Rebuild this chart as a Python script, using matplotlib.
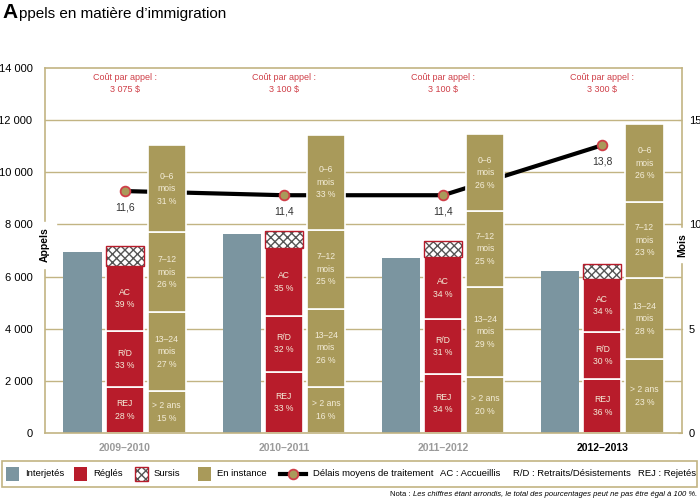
import numpy as np
import matplotlib.pyplot as plt
from matplotlib.patches import Rectangle
from matplotlib.lines import Line2D

plt.rcParams['font.family'] = ['Liberation Sans', 'DejaVu Sans']

# === Données ===
annees = ['2009–2010', '2010–2011', '2011–2012', '2012–2013']
interjetes = [6950, 7650, 6700, 6200]
regles_rej = [1750, 2350, 2270, 2080]
regles_rd = [2150, 2150, 2110, 1790]
regles_ac = [2500, 2600, 2360, 2030]
sursis = [770, 650, 640, 580]
inst_2ans = [1600, 1780, 2160, 2830]
inst_13_24 = [3050, 2990, 3450, 3100]
inst_7_12 = [3050, 3020, 2910, 2920]
inst_0_6 = [3350, 3640, 2930, 3000]

pct_rej = [28, 33, 34, 36]
pct_rd = [33, 32, 31, 30]
pct_ac = [39, 35, 34, 34]
pct_2ans = [15, 16, 20, 23]
pct_13_24 = [27, 26, 29, 28]
pct_7_12 = [26, 25, 25, 23]
pct_0_6 = [31, 33, 26, 26]

delais = [11.6, 11.4, 11.4, 13.8]
couts = ['3 075 $', '3 100 $', '3 100 $', '3 300 $']

# === Couleurs ===
c_inter = '#7b95a0'
c_regl = '#b81c2b'
c_inst = '#a99a5a'
c_grid = '#c2b483'
c_txt = '#f3ecd8'
c_cout = '#cf3f48'

fig = plt.figure(figsize=(7, 5.01), dpi=100)
ax = fig.add_axes([45 / 700, 68 / 501, 637 / 700, 365 / 501])
x = np.arange(len(annees))
w = 0.24
off = 0.264
y_max = 14000
mois_max = 17.5

ax.set_xlim(-0.5, 3.5)
ax.set_ylim(0, y_max)
ax.set_yticks(range(0, 14001, 2000))
ax.set_yticklabels(['0' if v == 0 else f'{v // 1000} 000' for v in range(0, 14001, 2000)])
ax.tick_params(axis='y', length=0, pad=9, labelsize=8)
ax.set_xticks([])
for s in ax.spines.values():
    s.set_color(c_grid)
    s.set_linewidth(1.2)
for v in range(2000, 14000, 2000):
    ax.axhline(v, color=c_grid, lw=1, zorder=0)

# Interjetés
ax.bar(x - off, interjetes, w, color=c_inter, zorder=2)

# Réglés
seg_regl = [(regles_rej, pct_rej, 'REJ'), (regles_rd, pct_rd, 'R/D'), (regles_ac, pct_ac, 'AC')]
bottom = np.zeros(4)
for vals, pcts, lab in seg_regl:
    ax.bar(x, vals, w, bottom=bottom, color=c_regl, edgecolor='white', lw=1.2, zorder=2)
    for i in range(4):
        ax.text(x[i], bottom[i] + vals[i] / 2, f'{lab}\n{pcts[i]} %', ha='center', va='center',
                color=c_txt, fontsize=6.2, linespacing=1.5, zorder=4)
    bottom += vals
ax.bar(x, sursis, w, bottom=bottom, color='white', edgecolor='#555555', hatch='xxxx', lw=0, zorder=2)
ax.bar(x, sursis, w, bottom=bottom, fill=False, edgecolor=c_regl, lw=1, zorder=3)

# En instance
seg_inst = [(inst_2ans, pct_2ans, '> 2 ans'), (inst_13_24, pct_13_24, '13–24\nmois'),
            (inst_7_12, pct_7_12, '7–12\nmois'), (inst_0_6, pct_0_6, '0–6\nmois')]
bottom = np.zeros(4)
for vals, pcts, lab in seg_inst:
    ax.bar(x + off, vals, w, bottom=bottom, color=c_inst, edgecolor='white', lw=1.2, zorder=2)
    for i in range(4):
        ax.text(x[i] + off, bottom[i] + vals[i] / 2, f'{lab}\n{pcts[i]} %', ha='center', va='center',
                color=c_txt, fontsize=6.2, linespacing=1.5, zorder=4)
    bottom += vals

# Coût par appel
for i in range(4):
    ax.text(x[i], 13800, f'Coût par appel :\n{couts[i]}', ha='center', va='top',
            color=c_cout, fontsize=6.5, linespacing=1.4)

# Délais (axe droit) - la ligne passe derrière les barres
ax2 = ax.twinx()
ax2.set_ylim(0, mois_max)
ax2.set_yticks([0, 5, 10, 15])
ax2.tick_params(axis='y', direction='in', length=3, color=c_grid, pad=5, labelsize=8)
for s in ax2.spines.values():
    s.set_visible(False)
delais_y = np.array(delais) * y_max / mois_max
ax.plot(x, delais_y, color='black', lw=3, marker='o', ms=7, mfc=c_inst, mec=c_cout, mew=1.3, zorder=1.5)
for i in range(4):
    ax.annotate(f'{delais[i]:.1f}'.replace('.', ','), (x[i], delais_y[i]), xytext=(0, -12),
                textcoords='offset points', ha='center', va='center', fontsize=7.5, color='#333333')

# Étiquettes des axes
ax.text(0, 0.515, 'Appels', transform=ax.transAxes, rotation=90, ha='center', va='center',
        fontsize=7.5, fontweight='bold', backgroundcolor='white', zorder=6)
ax2.text(1, 0.515, 'Mois', transform=ax2.transAxes, rotation=90, ha='center', va='center',
         fontsize=7.5, fontweight='bold', backgroundcolor='white', zorder=6)

# Années
for i, a in enumerate(annees):
    ax.text(x[i], -0.04, a, transform=ax.get_xaxis_transform(), ha='center', va='center',
            fontsize=7.5, fontweight='bold', color='black' if i == 3 else '#9a9a9a')

# Titre
t_a = fig.text(2 / 700, 1 - 18 / 501, 'A', fontsize=15, fontweight='bold', va='baseline')
plt.annotate('ppels en matière d’immigration', xy=(1, 1 - 18 / 501),
             xycoords=(t_a, 'figure fraction'), xytext=(1, 0), textcoords='offset points',
             fontsize=11, va='baseline', annotation_clip=False)

# === Légende ===
lg = fig.add_axes([0, 0, 1, 1], zorder=10)
lg.set_xlim(0, 700)
lg.set_ylim(501, 0)
lg.axis('off')
lg.add_patch(Rectangle((2, 461), 695, 26, fill=False, edgecolor=c_grid, lw=1.2))
yc = 474
fs_lg = 6.8
items = [(6, c_inter, 'Interjetés', 25), (74, c_regl, 'Réglés', 93), (135, None, 'Sursis', 154),
         (198, c_inst, 'En instance', 217)]
for px, col, lab, tx in items:
    if col is None:
        lg.add_patch(Rectangle((px, yc - 7), 13, 14, facecolor='white', edgecolor='#555555', hatch='xxxx', lw=0))
        lg.add_patch(Rectangle((px, yc - 7), 13, 14, fill=False, edgecolor=c_regl, lw=1))
    else:
        lg.add_patch(Rectangle((px, yc - 7), 13, 14, facecolor=col, lw=0))
    lg.text(tx, yc, lab, va='center', fontsize=fs_lg)
lg.add_line(Line2D([280, 306], [yc, yc], color='black', lw=3, zorder=1))
lg.plot([293], [yc], marker='o', ms=7, mfc=c_inst, mec=c_cout, mew=1.3, ls='none')
lg.text(313, yc, 'Délais moyens de traitement', va='center', fontsize=fs_lg)
lg.text(440, yc, 'AC : Accueillis', va='center', fontsize=fs_lg)
lg.text(513, yc, 'R/D : Retraits/Désistements', va='center', fontsize=fs_lg)
lg.text(638, yc, 'REJ : Rejetés', va='center', fontsize=fs_lg)

note = lg.text(697, 494, 'Les chiffres étant arrondis, le total des pourcentages peut ne pas être égal à 100 %.',
               ha='right', va='center', fontsize=5.5, style='italic')
lg.annotate('Nota : ', xy=(0, 0.5), xycoords=note, ha='right', va='center', fontsize=5.5)

plt.savefig('out.png', dpi=100)
